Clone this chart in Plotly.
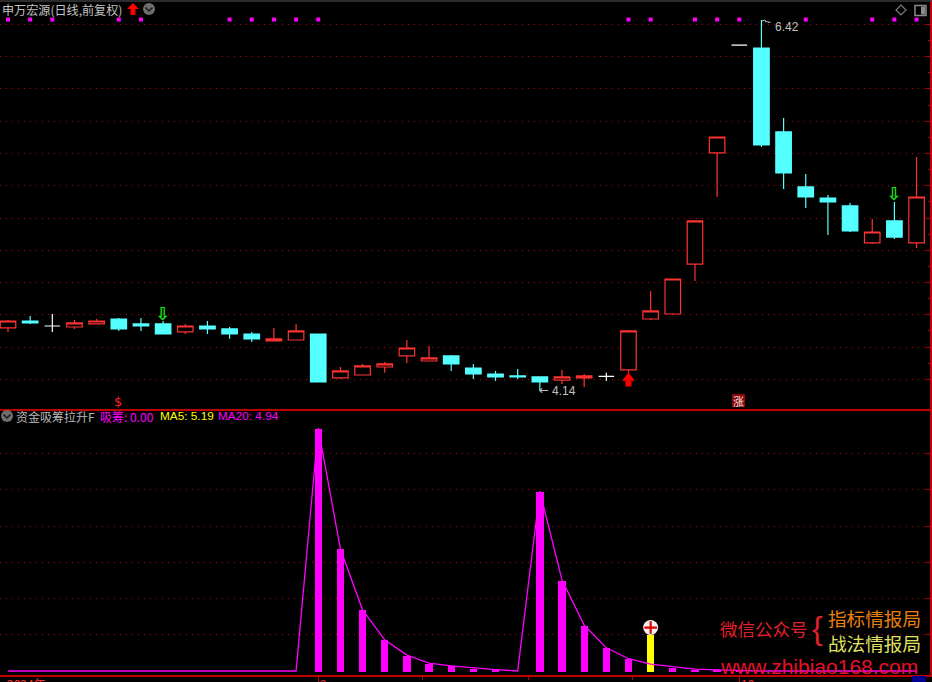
import plotly.graph_objects as go

# ---- data ----
idx = list(range(42))
opens  = [4.527,4.570,4.539,4.533,4.552,4.582,4.552,4.552,4.503,4.539,4.521,4.490,4.447,4.453,4.490,
          4.220,4.238,4.287,4.355,4.324,4.355,4.281,4.244,4.232,4.226,4.207,4.220,4.229,4.269,4.582,
          4.613,4.920,5.603,6.266,6.248,5.732,5.394,5.326,5.277,5.050,5.185,5.050]
highs  = [4.576,4.601,4.613,4.576,4.582,4.589,4.589,4.570,4.552,4.570,4.533,4.503,4.527,4.552,4.490,
          4.287,4.306,4.318,4.453,4.416,4.361,4.306,4.263,4.275,4.226,4.269,4.244,4.251,4.515,4.755,
          4.828,5.185,5.701,6.266,6.420,5.818,5.474,5.345,5.295,5.197,5.302,5.578]
lows   = [4.503,4.552,4.503,4.521,4.552,4.509,4.509,4.490,4.490,4.490,4.460,4.441,4.447,4.453,4.195,
          4.214,4.238,4.251,4.312,4.324,4.263,4.214,4.201,4.214,4.140,4.183,4.164,4.201,4.251,4.576,
          4.607,4.816,5.332,6.266,5.640,5.381,5.265,5.099,5.117,5.043,5.074,5.019]
closes = [4.570,4.558,4.539,4.558,4.570,4.521,4.539,4.490,4.539,4.521,4.490,4.460,4.460,4.509,4.195,
          4.263,4.294,4.306,4.404,4.343,4.306,4.244,4.226,4.226,4.195,4.226,4.232,4.229,4.509,4.632,
          4.828,5.185,5.701,6.266,5.652,5.480,5.332,5.302,5.123,5.117,5.086,5.332]
flat_days = [2, 27, 33]
price_grid = [6.394,6.195,5.996,5.797,5.600,5.402,5.203,5.003,4.807,4.610,4.410,4.212]
price_minor = [6.295,6.096,5.897,5.698,5.501,5.302,5.103,4.905,4.708,4.510,4.311]
signal_days = [0,1,2,5,6,10,11,12,13,14,28,29,31,32,33,36,39,40,41]
signal_level = 6.423
sell_days = [7, 40]
sell_levels = [4.606, 5.341]
buy_day = [28]
buy_head = [4.219]
buy_stem = [4.186]
inflow = [0,0,0,0,0,0,0,0,0,0,0,0,0,0,67.1,33.7,16.9,8.6,4.4,2.2,1.4,0.8,0.4,0,
          49.7,25.1,12.7,6.4,3.4,1.9,1.1,0.5,0.3,0.1,0,0,0,0,0,0,0,0]
yellow_day = [29]
yellow_value = [10.0]
flow_grid = [10,20,30,40,50,60]
month_days = [14, 33]
minor_month_days = [18.7, 23.5, 28.2]

# ---- layout constants ----
W, H = 932, 682
PANEL_SPLIT = 408.5
PANEL_BOTTOM = 675
RIGHT = 930
STEP, X0 = 22.16, 8.0
xr = [-X0/STEP, (RIGHT-X0)/STEP]
RED, CYAN, GRID = "#ff3232", "#54ffff", "#c00000"
MAG = "#ff00ff"

def dom(y0, y1):
    return [1-y1/H, 1-y0/H]

def px(x, y):
    return dict(xref="paper", yref="paper", x=x/W, y=1-y/H)

def path(points, close=True):
    d = " ".join(("M" if k == 0 else "L") + f"{x/W:.5f},{1-y/H:.5f}" for k, (x, y) in enumerate(points))
    return d + (" Z" if close else "")

up = [i for i in idx if i not in flat_days and closes[i] > opens[i]]
down = [i for i in idx if i not in flat_days and closes[i] <= opens[i]]

def candle(sel, inc, dec, fill_inc, fill_dec, lw=1.2):
    return go.Candlestick(
        x=sel, open=[opens[i] for i in sel], high=[highs[i] for i in sel],
        low=[lows[i] for i in sel], close=[closes[i] for i in sel],
        increasing=dict(line=dict(color=inc, width=lw), fillcolor=fill_inc),
        decreasing=dict(line=dict(color=dec, width=lw), fillcolor=fill_dec),
        whiskerwidth=0, xaxis="x", yaxis="y", showlegend=False)

fig = go.Figure()
fig.add_trace(candle(up, RED, RED, "#000000", "#000000"))
fig.add_trace(candle(down, CYAN, CYAN, CYAN, CYAN))
fig.add_trace(candle(flat_days, "#ffffff", "#ffffff", "#ffffff", "#ffffff"))
fig.add_trace(go.Scatter(x=signal_days, y=[signal_level]*len(signal_days), mode="markers",
                         marker=dict(symbol="square", size=4, color=MAG), xaxis="x", yaxis="y", showlegend=False))
fig.add_trace(go.Scatter(x=sell_days, y=sell_levels, mode="text", text=["⇩"]*len(sell_days),
                         textfont=dict(family="DejaVu Sans", size=18, color="#19e619", weight="bold"),
                         textposition="middle center", xaxis="x", yaxis="y", showlegend=False))
fig.add_trace(go.Scatter(x=buy_day, y=buy_head, mode="markers",
                         marker=dict(symbol="triangle-up", size=11, color="#ff0000"),
                         xaxis="x", yaxis="y", showlegend=False))
fig.add_trace(go.Scatter(x=buy_day, y=buy_stem, mode="markers",
                         marker=dict(symbol="square", size=6, color="#ff0000"),
                         xaxis="x", yaxis="y", showlegend=False))

fig.add_trace(go.Bar(x=idx, y=inflow, width=0.33, marker=dict(color=MAG, line_width=0),
                     xaxis="x2", yaxis="y2", showlegend=False))
fig.add_trace(go.Bar(x=yellow_day, y=yellow_value, width=0.33, marker=dict(color="#ffff00", line_width=0),
                     xaxis="x2", yaxis="y2", showlegend=False))
fig.add_trace(go.Scatter(x=idx, y=inflow, mode="lines", line=dict(color=MAG, width=1.3),
                         xaxis="x2", yaxis="y2", showlegend=False))
fig.add_trace(go.Scatter(x=yellow_day, y=[yellow_value[0]+2.0], mode="markers",
                         marker=dict(symbol="circle", size=15, color="#f0f0f0"),
                         xaxis="x2", yaxis="y2", showlegend=False))
fig.add_trace(go.Scatter(x=yellow_day, y=[yellow_value[0]+2.0], mode="markers",
                         marker=dict(symbol="cross-thin", size=9, line=dict(color="#e00000", width=2.2)),
                         xaxis="x2", yaxis="y2", showlegend=False))

CN = "Noto Sans CJK SC"
def T(text, x, y, color, size=12, xanchor="left", family=CN, **kw):
    return dict(text=text, showarrow=False, xanchor=xanchor, yanchor="middle", borderpad=0, borderwidth=0,
                font=dict(family=family, size=size, color=color), **px(x, y), **kw)

annos = [
    T("申万宏源(日线,前复权)", 2, 9.5, "#c4c4c4", 12.1),
    T("$", 118, 401, "#ff2020", 13, "center", "DejaVu Sans"),
    T("涨", 738.5, 400.5, "#f4e0e0", 11, "center"),
    T("~", 768, 23, "#c0c0c0", 10, "center", "Liberation Sans"),
    T("6.42", 775, 27, "#c0c0c0", 12, "left", "Liberation Sans"),
    T("←", 539, 390, "#c0c0c0", 12, "left", "DejaVu Sans"),
    T("4.14", 552, 391, "#c0c0c0", 12, "left", "Liberation Sans"),
    T("资金吸筹拉升F", 16, 416, "#b8b8b8", 12),
    T("吸筹: 0.00", 100, 416, MAG, 12),
    T("MA5: 5.19", 160, 416, "#ffff00", 11.8, family="Liberation Sans"),
    T("MA20: 4.94", 218, 416, MAG, 11.8, family="Liberation Sans"),
    T("微信公众号", 720, 628, "#e0202a", 17.5),
    T("{", 817, 628, "#e0202a", 32, "center", "Liberation Sans"),
    T("指标情报局", 828, 617, "#e88010", 18.6),
    T("战法情报局", 828, 642, "#e0e060", 18.6),
    T("www.zhibiao168.com", 720, 666, "#e8102a", 21, family="Liberation Sans"),
    T("2024年", 7, 683.5, "#ff3030", 12),
    T("9", 320, 683.5, "#ff3030", 12),
    T("10", 741, 683.5, "#ff3030", 12),
]

def pshape(points, fill=None, line=None, width=1.2, close=True):
    return dict(type="path", xref="paper", yref="paper", path=path(points, close),
                fillcolor=fill if fill else "rgba(0,0,0,0)",
                line=dict(color=line if line else "rgba(0,0,0,0)", width=width if line else 0))

def circle(cx, cy, r, color):
    return dict(type="circle", xref="paper", yref="paper", x0=(cx-r)/W, x1=(cx+r)/W,
                y0=1-(cy+r)/H, y1=1-(cy-r)/H, fillcolor=color, line_width=0)

shapes = [
    circle(149, 9, 6, "#6e6e6e"),
    pshape([(145.5, 7.5), (149, 11), (152.5, 7.5)], line="#1a1a1a", width=1.5, close=False),
    circle(7, 416, 6, "#6e6e6e"),
    pshape([(3.5, 414.5), (7, 418), (10.5, 414.5)], line="#1a1a1a", width=1.5, close=False),
    # title arrow
    pshape([(133, 3), (139, 9), (135.5, 9), (135.5, 15), (130.5, 15), (130.5, 9), (127, 9)], fill="#ff0000"),
    # corner icons
    pshape([(901, 5), (906, 10), (901, 15), (896, 10)], line="#7a7a7a"),
    dict(type="rect", xref="paper", yref="paper", x0=915/W, x1=926/W, y0=1-15.5/H, y1=1-5.5/H,
         fillcolor="rgba(0,0,0,0)", line=dict(color="#8a8a8a", width=1.5)),
    dict(type="rect", xref="paper", yref="paper", x0=921/W, x1=925/W, y0=1-14.5/H, y1=1-6.5/H,
         fillcolor="#8a8a8a", line_width=0),
    # limit-up badge
    dict(type="rect", xref="paper", yref="paper", x0=732/W, x1=745/W, y0=1-407/H, y1=1-394/H,
         fillcolor="#8a0808", line_width=0, layer="below"),
    dict(type="rect", xref="paper", yref="paper", x0=912/W, x1=926/W, y0=1-682/H, y1=1-676/H,
         fillcolor="#000090", line_width=0),
    dict(type="line", xref="paper", yref="paper", x0=0, x1=1, y0=1-1/H, y1=1-1/H,
         line=dict(color="#3a3a3a", width=1.5)),
    # wick-top flag of the high label
    pshape([(762, 21), (765, 20), (766, 22)], line="#c0c0c0", width=1, close=False),
]

fig.update_layout(
    width=W, height=H, margin=dict(l=0, r=0, t=0, b=0, pad=0, autoexpand=False),
    paper_bgcolor="#000000", plot_bgcolor="#000000", showlegend=False,
    boxgap=0, bargap=0, barmode="overlay", annotations=annos, shapes=shapes,
    xaxis=dict(domain=[0, RIGHT/W], range=xr, anchor="y", showgrid=False, zeroline=False,
               showticklabels=False, ticks="", rangeslider=dict(visible=False),
               showline=True, linecolor="#c00000", linewidth=1.5),
    yaxis=dict(domain=dom(0, PANEL_SPLIT), range=[4.032, 6.543], side="right", anchor="x",
               tickvals=price_grid, showticklabels=False, ticks="inside", ticklen=4, tickcolor="#c00000",
               minor=dict(tickvals=price_minor, ticks="inside", ticklen=2, tickcolor="#c00000", showgrid=False),
               showgrid=True, gridcolor=GRID, griddash="1px,5px", gridwidth=1, zeroline=False,
               showline=True, linecolor="#c00000", linewidth=1.5),
    xaxis2=dict(domain=[0, RIGHT/W], range=xr, anchor="y2", showgrid=False, zeroline=False,
                showticklabels=False, tickvals=month_days, ticks="outside", ticklen=7, tickcolor="#c00000",
                minor=dict(tickvals=minor_month_days, ticks="outside", ticklen=3, tickcolor="#c00000"),
                showline=True, linecolor="#c00000", linewidth=1.5),
    yaxis2=dict(domain=dom(PANEL_SPLIT, PANEL_BOTTOM), range=[-1.1, 72.5], side="right", anchor="x2",
                tickvals=flow_grid, showticklabels=False, ticks="inside", ticklen=4, tickcolor="#c00000",
                showgrid=True, gridcolor=GRID, griddash="1px,5px", gridwidth=1, zeroline=False,
                showline=True, linecolor="#c00000", linewidth=1.5),
)

fig.write_html("out.html", config=dict(displayModeBar=False),
               post_script="document.body.style.margin='0';document.body.style.overflow='hidden';document.body.style.background='#000';")
